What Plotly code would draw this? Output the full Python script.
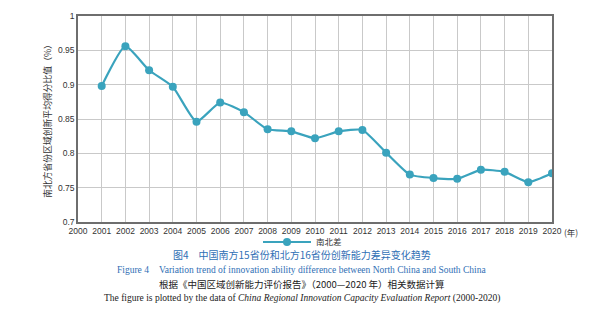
import plotly.graph_objects as go

years = list(range(2001, 2021))
values = [0.898, 0.956, 0.921, 0.897, 0.846, 0.874, 0.860, 0.835, 0.832, 0.822,
          0.832, 0.834, 0.801, 0.769, 0.764, 0.763, 0.776, 0.773, 0.758, 0.771]
series_name = "南北差"
x_ticks = list(range(2000, 2021))
x_ticktext = [str(v) for v in x_ticks]
y_ticks = [0.7, 0.75, 0.8, 0.85, 0.9, 0.95, 1]
y_ticktext = ["0.7", "0.75", "0.8", "0.85", "0.9", "0.95", "1"]
y_title = "南北方省份区域创新平均得分比值（%）"
caption_cn = "图4　中国南方15省份和北方16省份创新能力差异变化趋势"
caption_en = "Figure 4　Variation trend of innovation ability difference between North China and South China"
source_cn = "根据《中国区域创新能力评价报告》（2000—2020 年）相关数据计算"
source_en = "The figure is plotted by the data of <i>China Regional Innovation Capacity Evaluation Report</i> (2000-2020)"

line_color = "#3AA3BD"
blue = "#2F6FB5"

W, H = 609, 320
ML, MR, MT, MB = 78, 57, 16, 98
PW = W - ML - MR
PH = H - MT - MB

fig = go.Figure()
fig.add_trace(go.Scatter(
    x=years, y=values, name=series_name, mode="lines+markers",
    line=dict(color=line_color, width=2.2, shape="spline", smoothing=0.5),
    marker=dict(color=line_color, size=8),
))

fig.update_layout(
    width=W, height=H,
    margin=dict(l=ML, r=MR, t=MT, b=MB, autoexpand=False),
    paper_bgcolor="white", plot_bgcolor="white",
    font=dict(family="Liberation Sans, Arial", size=8.5, color="#333"),
    showlegend=True,
    legend=dict(orientation="h", xref="container", yref="container",
                x=258 / W, y=1 - 242 / H, xanchor="left", yanchor="middle",
                itemwidth=48,
                font=dict(family="Noto Sans CJK SC", size=8.5, color="#333"),
                bgcolor="rgba(0,0,0,0)"),
    xaxis=dict(range=[2000, 2020], tickmode="array", tickvals=x_ticks, ticktext=x_ticktext,
               showgrid=True, gridcolor="#c9c9c9", gridwidth=1,
               showline=True, linecolor="#6e6e6e", linewidth=1.5, mirror=True,
               ticks="", zeroline=False, tickfont=dict(size=8.5, color="#333")),
    yaxis=dict(range=[0.7, 1.0], tickmode="array", tickvals=y_ticks, ticktext=y_ticktext,
               showgrid=True, gridcolor="#c9c9c9", gridwidth=1,
               showline=True, linecolor="#6e6e6e", linewidth=1.5, mirror=True,
               ticks="", zeroline=False, tickfont=dict(size=8.5, color="#333"),
               title=dict(text=y_title, font=dict(family="Noto Sans CJK SC", size=8.8, color="#333"),
                          standoff=5)),
)

fig.add_annotation(text="(年)", xref="x", yref="paper", x=2020, y=0, xshift=10,
                   yshift=-10, showarrow=False, xanchor="left", yanchor="middle",
                   font=dict(family="Noto Sans CJK SC", size=8.5, color="#333"))

caps = [
    (caption_cn, 255, blue, "Noto Sans CJK SC", 10),
    (caption_en, 270, blue, "Liberation Serif", 9.5),
    (source_cn, 284, "#222", "Noto Sans CJK SC", 9.5),
    (source_en, 298, "#222", "Liberation Serif", 9.5),
]
for text, ypx, col, fam, sz in caps:
    fig.add_annotation(text=text, xref="paper", yref="paper",
                       x=(W / 2 - 3 - ML) / PW, y=(H - MB - ypx) / PH,
                       xanchor="center", yanchor="middle",
                       showarrow=False, font=dict(family=fam, size=sz, color=col))

fig.write_html("out.html")
